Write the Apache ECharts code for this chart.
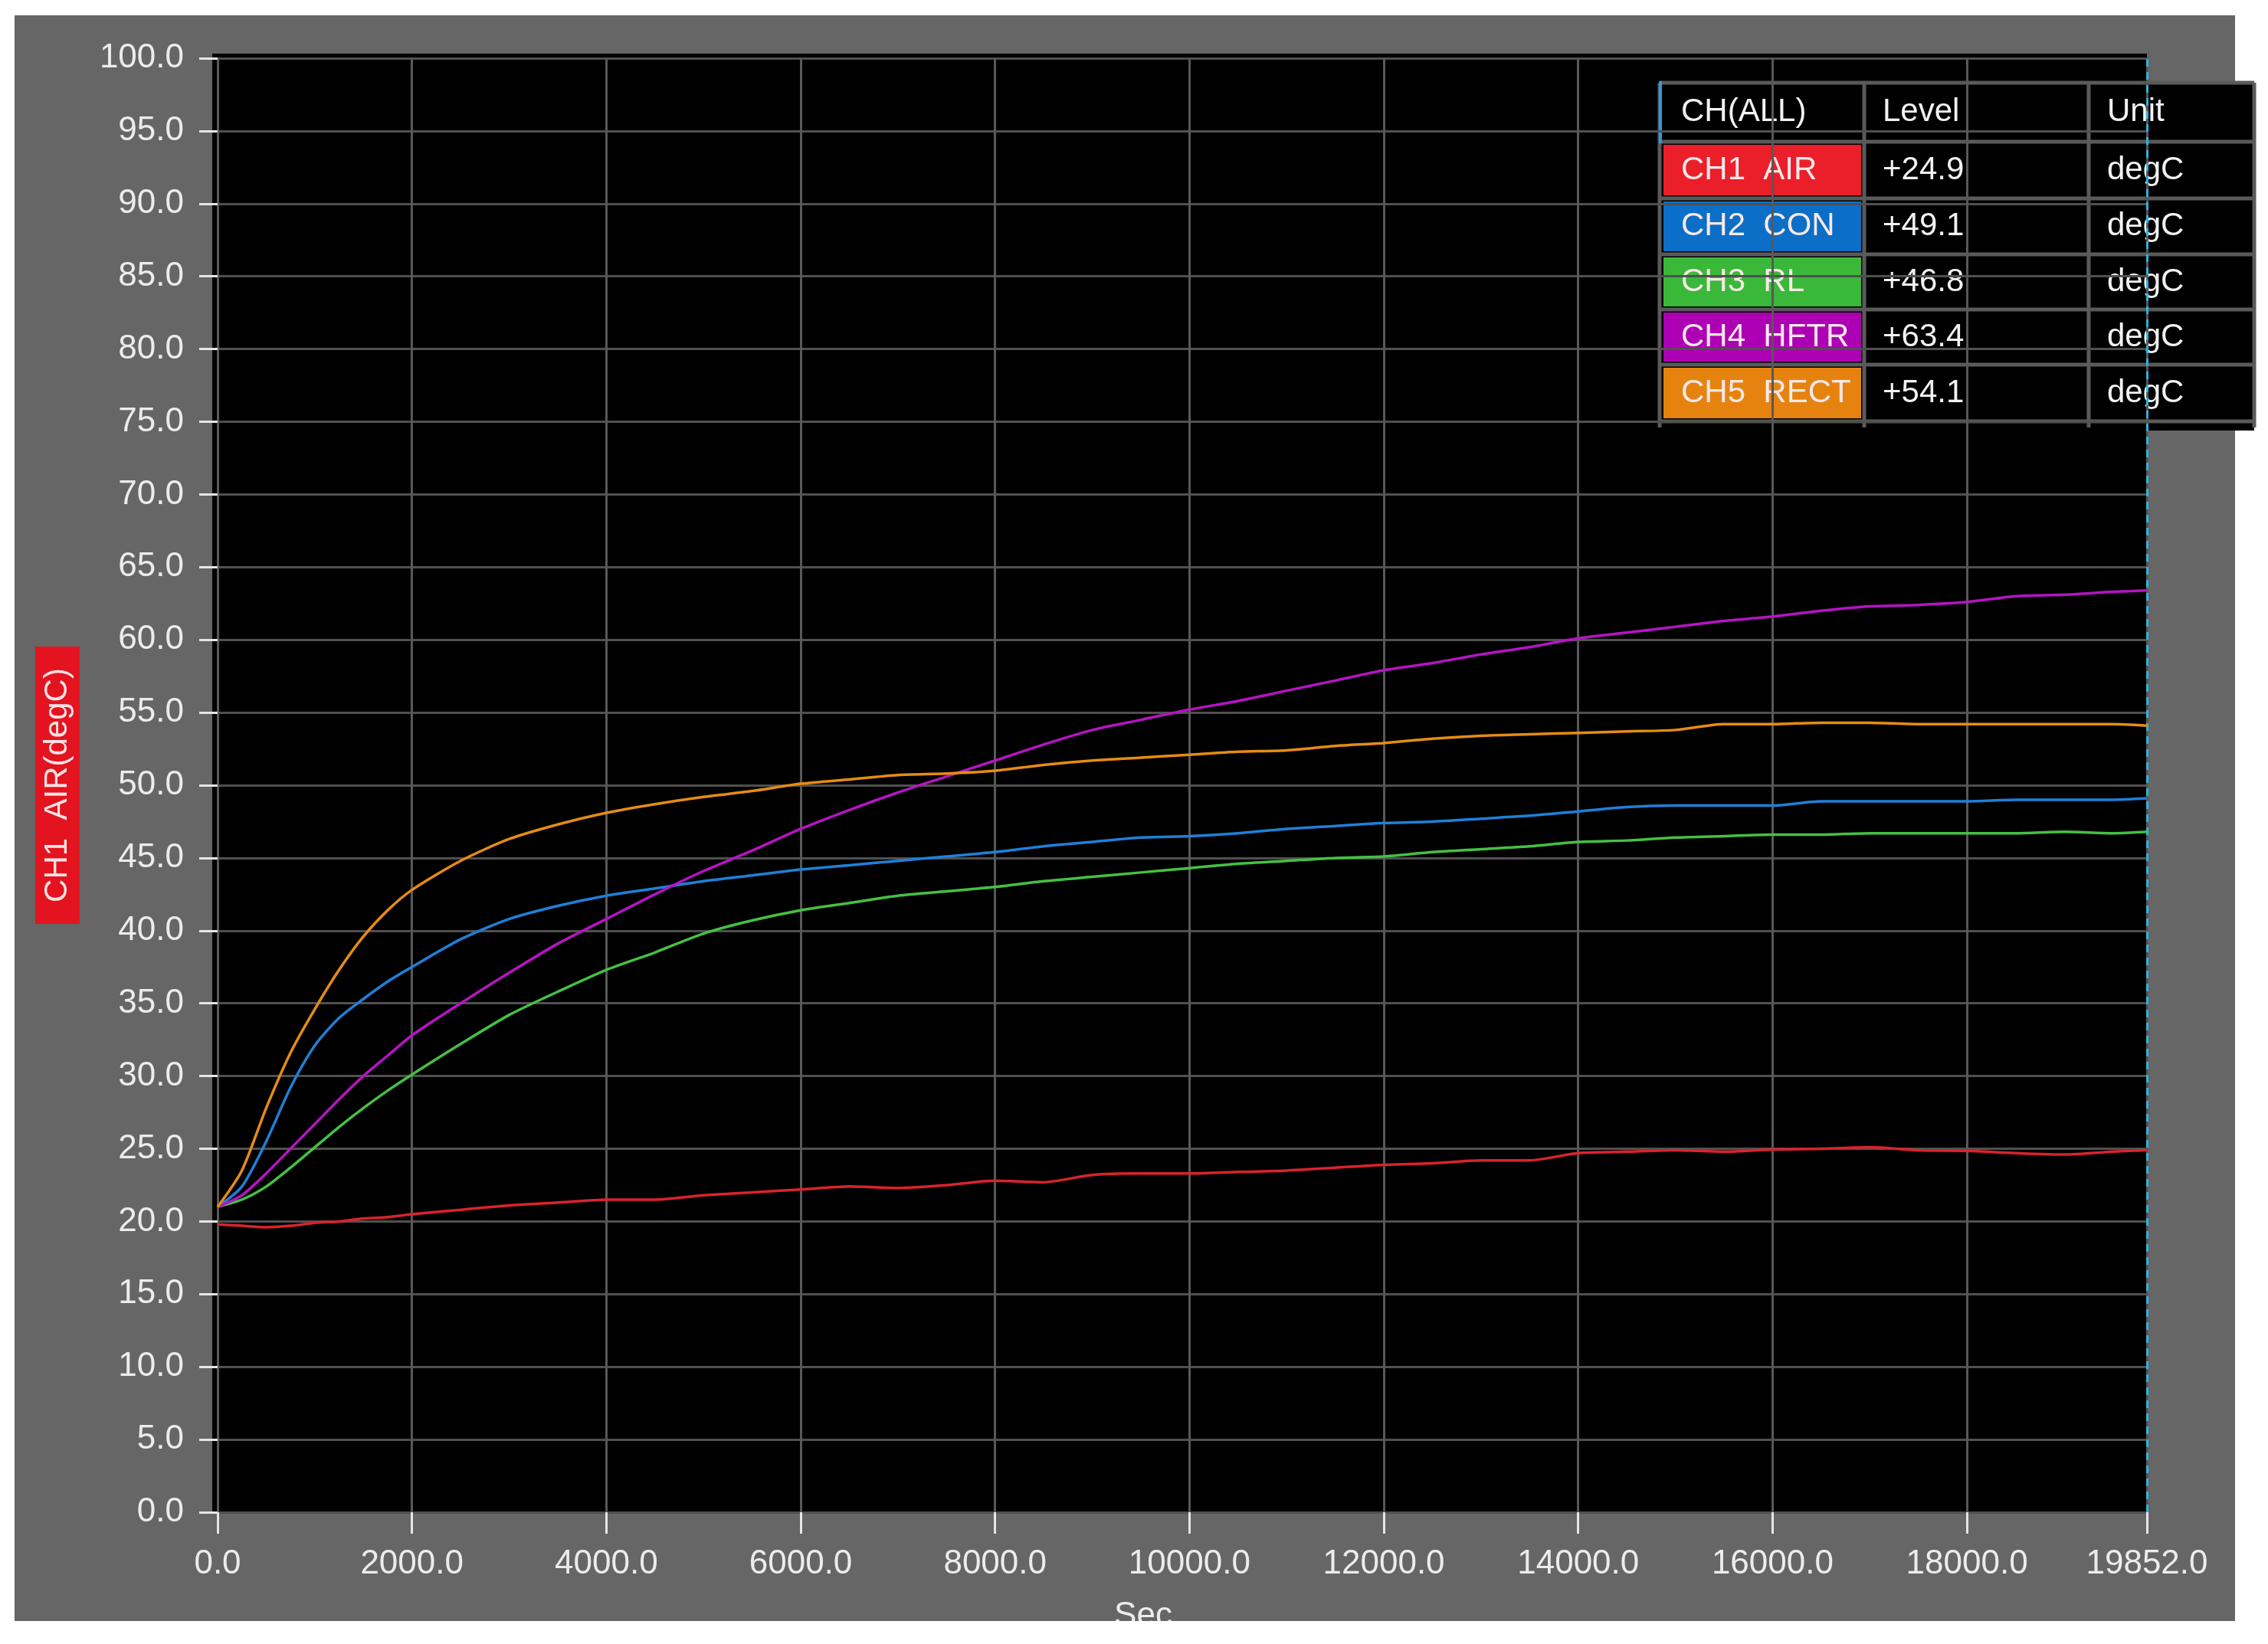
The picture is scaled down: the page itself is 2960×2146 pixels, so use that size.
<!DOCTYPE html>
<html>
<head>
<meta charset="utf-8">
<script src="https://cdn.jsdelivr.net/npm/echarts@6/dist/echarts.min.js"></script>
<style>
html,body{margin:0;padding:0;background:#fff;}
#chart{width:2960px;height:2146px;}
</style>
</head>
<body>
<div id="chart"></div>
<script>
// ---- data (seconds, degC) ----
const times = [0,250,500,750,1000,1250,1500,1750,2000,2500,3000,3500,4000,4500,5000,5500,6000,6500,7000,7500,8000,8500,9000,9500,10000,10500,11000,11500,12000,12500,13000,13500,14000,14500,15000,15500,16000,16500,17000,17500,18000,18500,19000,19500,19852];
const airVals  = [19.8,19.7,19.6,19.7,19.9,20.0,20.2,20.3,20.5,20.8,21.1,21.3,21.5,21.5,21.8,22.0,22.2,22.4,22.3,22.5,22.8,22.7,23.2,23.3,23.3,23.4,23.5,23.7,23.9,24.0,24.2,24.2,24.7,24.8,24.9,24.8,24.95,25.0,25.1,24.9,24.85,24.7,24.6,24.8,24.9];
const conVals  = [21.0,22.4,25.5,29.2,32.1,34.0,35.3,36.5,37.5,39.4,40.8,41.7,42.4,42.9,43.4,43.8,44.2,44.5,44.8,45.1,45.4,45.8,46.1,46.4,46.5,46.7,47.0,47.2,47.4,47.5,47.7,47.9,48.2,48.5,48.6,48.6,48.6,48.9,48.9,48.9,48.9,49.0,49.0,49.0,49.1];
const rlVals   = [21.0,21.5,22.4,23.7,25.1,26.5,27.8,29.0,30.1,32.2,34.2,35.8,37.3,38.5,39.8,40.7,41.4,41.9,42.4,42.7,43.0,43.4,43.7,44.0,44.3,44.6,44.8,45.0,45.1,45.4,45.6,45.8,46.1,46.2,46.4,46.5,46.6,46.6,46.7,46.7,46.7,46.7,46.8,46.7,46.8];
const hftrVals = [21.0,21.8,23.3,25.0,26.7,28.4,30.0,31.4,32.8,35.0,37.1,39.1,40.8,42.5,44.1,45.5,47.0,48.3,49.5,50.6,51.7,52.8,53.8,54.5,55.2,55.8,56.5,57.2,57.9,58.4,59.0,59.5,60.1,60.5,60.9,61.3,61.6,62.0,62.3,62.4,62.6,63.0,63.1,63.3,63.4];
const rectVals = [21.0,23.5,27.8,31.6,34.6,37.3,39.6,41.4,42.8,44.8,46.3,47.3,48.1,48.7,49.2,49.6,50.1,50.4,50.7,50.8,51.0,51.4,51.7,51.9,52.1,52.3,52.4,52.7,52.9,53.2,53.4,53.5,53.6,53.7,53.8,54.2,54.2,54.3,54.3,54.2,54.2,54.2,54.2,54.2,54.1];

const channelLabels = ['CH1  AIR','CH2  CON','CH3  RL','CH4  HFTR','CH5  RECT'];
const channelValues = [airVals, conVals, rlVals, hftrVals, rectVals];
const unitLabel = 'degC';
const headerLabels = ['CH(ALL)','Level','Unit'];
const yAxisTitle = 'CH1  AIR(degC)';
const xAxisTitle = 'Sec';
const yMin = 0, yMax = 100, yStep = 5;
const xMin = 0, xMax = 19852, xStep = 2000;

// ---- styles ----
const lineColors = ['#d9232d','#1e80d8','#45c043','#b514c3','#e58c14'];
const cellColors = ['#ea1f2a','#0b6fc7','#3ab83a','#ad00b5','#e6830f'];
const FONT = "'Liberation Sans', Arial, sans-serif";

const chart = echarts.init(document.getElementById('chart'));

const series = channelValues.map((vals, i) => ({
  type: 'line',
  name: channelLabels[i],
  data: times.map((t, k) => [t, vals[k]]),
  showSymbol: false,
  smooth: 0.25,
  lineStyle: { color: lineColors[i], width: 3.5 },
  itemStyle: { color: lineColors[i] },
  z: 3 + i
}));
series[0].markLine = {
  silent: true, symbol: 'none', label: { show: false },
  lineStyle: { color: '#2bb5d8', type: [10, 7], width: 3 },
  data: [{ xAxis: times[times.length - 1] }]
};

// ---- table (legend box) ----
const cols = [2166, 2433, 2726, 2942];
const rows = [108, 185, 259, 332, 404, 476, 550];
const tbl = [];
tbl.push({ type: 'rect', shape: { x: cols[0], y: rows[0], width: cols[3] - cols[0], height: 454 }, style: { fill: '#000' } });
rows.forEach(r => tbl.push({ type: 'line', shape: { x1: cols[0], y1: r, x2: cols[3], y2: r }, style: { stroke: '#5a5a5a', lineWidth: 5 } }));
cols.forEach(c => tbl.push({ type: 'line', shape: { x1: c, y1: rows[0], x2: c, y2: rows[rows.length - 1] + 8 }, style: { stroke: '#5a5a5a', lineWidth: 5 } }));
tbl.push({ type: 'line', shape: { x1: cols[0] + 1, y1: rows[0] - 2, x2: cols[0] + 1, y2: rows[1] + 2 }, style: { stroke: '#2a9be0', lineWidth: 4 } });
const textX = [cols[0] + 28, cols[1] + 24, cols[2] + 24];
headerLabels.forEach((h, j) => tbl.push({
  type: 'text', style: { x: textX[j], y: (rows[0] + rows[1]) / 2, text: h, fill: '#f2f2f2', font: '42px ' + FONT, textVerticalAlign: 'middle' }
}));
channelLabels.forEach((lab, i) => {
  const y0 = rows[i + 1], y1 = rows[i + 2], cy = (y0 + y1) / 2;
  const last = channelValues[i][channelValues[i].length - 1];
  tbl.push({ type: 'rect', shape: { x: cols[0] + 5, y: y0 + 4, width: cols[1] - cols[0] - 9, height: y1 - y0 - 8 }, style: { fill: cellColors[i] } });
  tbl.push({ type: 'text', style: { x: textX[0], y: cy, text: lab, fill: '#fbe8ea', font: '42px ' + FONT, textVerticalAlign: 'middle' } });
  tbl.push({ type: 'text', style: { x: textX[1], y: cy, text: (last >= 0 ? '+' : '') + last.toFixed(1), fill: '#f2f2f2', font: '42px ' + FONT, textVerticalAlign: 'middle' } });
  tbl.push({ type: 'text', style: { x: textX[2], y: cy, text: unitLabel, fill: '#f2f2f2', font: '42px ' + FONT, textVerticalAlign: 'middle' } });
});

const option = {
  backgroundColor: '#ffffff',
  animation: false,
  grid: { left: 284, right: 158, top: 76, bottom: 172, containLabel: false },
  xAxis: {
    type: 'value', min: xMin, max: xMax, interval: xStep,
    axisLine: { show: false },
    axisTick: { show: true, length: 28, lineStyle: { color: '#e6e6e6', width: 3 } },
    axisLabel: { margin: 46, color: '#ececec', fontSize: 44, fontFamily: FONT, showMaxLabel: true, showMinLabel: true, formatter: v => v.toFixed(1) },
    splitLine: { show: true, lineStyle: { color: '#585858', width: 3 } },
    name: xAxisTitle, nameLocation: 'middle', nameGap: 114,
    nameTextStyle: { color: '#ececec', fontSize: 44, fontFamily: FONT, padding: [0, 102, 0, 0] }
  },
  yAxis: {
    type: 'value', min: yMin, max: yMax, interval: yStep,
    axisLine: { show: false },
    axisTick: { show: true, length: 24, lineStyle: { color: '#e6e6e6', width: 3 } },
    axisLabel: { margin: 44, color: '#ececec', fontSize: 44, fontFamily: FONT, formatter: v => v.toFixed(1) },
    splitLine: { show: true, lineStyle: { color: '#505050', width: 3 } },
    name: yAxisTitle, nameLocation: 'middle', nameRotate: 90, nameGap: 180,
    nameTextStyle: { color: '#fbe3e5', fontSize: 42, fontFamily: FONT, backgroundColor: '#e3141f', padding: [8, 28, 8, 28] }
  },
  graphic: [
    { type: 'rect', z: -20, silent: true, shape: { x: 19, y: 20, width: 2898, height: 2096 }, style: { fill: '#666666' } },
    { type: 'rect', z: -19, silent: true, shape: { x: 277, y: 70, width: 2525, height: 1905 }, style: { fill: '#000000' } },
    { type: 'rect', z: 200, silent: true, shape: { x: 0, y: 2116, width: 2960, height: 30 }, style: { fill: '#ffffff' } },
    { type: 'group', z: 100, silent: true, children: tbl }
  ],
  series: series
};
chart.setOption(option);
</script>
</body>
</html>
